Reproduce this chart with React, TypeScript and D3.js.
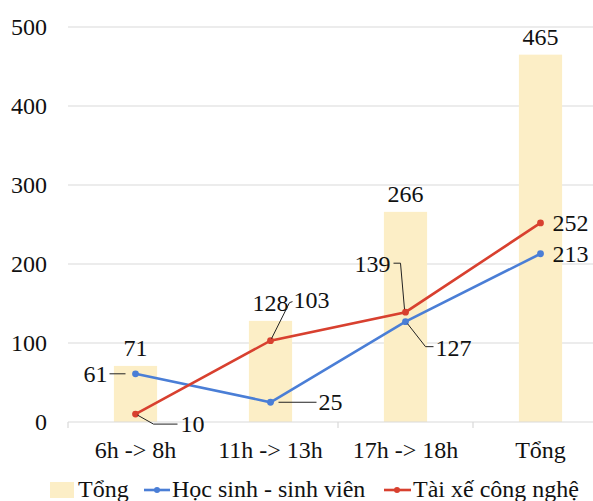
import React from "react";
import * as d3 from "d3";

// Time slots along the x axis
const categories = ["6h -> 8h", "11h -> 13h", "17h -> 18h", "Tổng"];
// Totals drawn as bars
const totalValues = [71, 128, 266, 465];
// Students line
const studentValues = [61, 25, 127, 213];
// Ride-hailing drivers line
const driverValues = [10, 103, 139, 252];
const yTicks = [0, 100, 200, 300, 400, 500];

const W = 593;
const H = 501;
const FONT = "Liberation Serif";
const FS = 24;
const BAR = "#FCEEC6";
const BLUE = "#4A7ED6";
const RED = "#D8402F";
const GRID = "#D9D9D9";

type Lbl = { dx: number; dy: number; anchor: string; leader?: [number, number][] };

// Label placement for each point (offsets relative to the point)
const studentLabels: Lbl[] = [
  { dx: -28, dy: 8, anchor: "end", leader: [[-10, 0], [-26, 0]] },
  { dx: 48, dy: 8, anchor: "start", leader: [[8, 0], [46, 0]] },
  { dx: 30, dy: 34, anchor: "start", leader: [[2, 2], [20, 25], [28, 25]] },
  { dx: 12, dy: 8, anchor: "start" },
];
const driverLabels: Lbl[] = [
  { dx: 45, dy: 18, anchor: "start", leader: [[2, 1], [18, 10], [42, 10]] },
  { dx: 23, dy: -33, anchor: "start", leader: [[1, -2], [19, -38], [22, -39]] },
  { dx: -15, dy: -40, anchor: "end", leader: [[-1, -3], [-5, -49], [-12, -49]] },
  { dx: 12, dy: 8, anchor: "start" },
];

const textStyle = { fontFamily: FONT, fontSize: FS, fill: "#111" };

export default function App() {
  const x = d3.scaleBand<string>().domain(categories).range([68, 608]).padding(0);
  const y = d3.scaleLinear().domain([0, 500]).range([422, 27]);
  const bw = x.bandwidth() * 0.32;
  const cx = (c: string) => (x(c) as number) + x.bandwidth() / 2;

  const line = d3
    .line<number>()
    .x((_, i) => cx(categories[i]))
    .y((v) => y(v));

  const renderLabels = (vals: number[], lbls: Lbl[]) =>
    vals.map((v, i) => {
      const px = cx(categories[i]);
      const py = y(v);
      const l = lbls[i];
      return (
        <g key={i}>
          {l.leader && (
            <polyline
              points={l.leader.map(([a, b]) => `${px + a},${py + b}`).join(" ")}
              fill="none"
              stroke="#222"
              strokeWidth={1}
            />
          )}
          <text x={px + l.dx} y={py + l.dy} textAnchor={l.anchor as any} style={textStyle}>
            {v}
          </text>
        </g>
      );
    });

  const boundaries = [0, 1, 2, 3, 4].map((i) => 68 + i * x.bandwidth());

  return (
    <svg width={W} height={H} style={{ position: "absolute", left: 0, top: 0, background: "#fff" }}>
      {/* gridlines and y tick labels */}
      {yTicks.map((t) => (
        <g key={t}>
          {t > 0 && <line x1={68} x2={W} y1={y(t)} y2={y(t)} stroke={GRID} strokeWidth={1.2} />}
          <text x={47} y={y(t) + 8} textAnchor="end" style={textStyle}>
            {t}
          </text>
        </g>
      ))}

      {/* bars */}
      {categories.map((c, i) => (
        <rect key={c} x={cx(c) - bw / 2} y={y(totalValues[i])} width={bw} height={y(0) - y(totalValues[i])} fill={BAR} />
      ))}

      {/* baseline axis with tick marks */}
      <line x1={68} x2={W} y1={y(0)} y2={y(0)} stroke={GRID} strokeWidth={1.2} />
      {boundaries.map((b) => (
        <line key={b} x1={b} x2={b} y1={y(0)} y2={y(0) + 6} stroke={GRID} strokeWidth={1.2} />
      ))}

      {/* bar value labels */}
      {categories.map((c, i) => (
        <text key={c} x={cx(c)} y={y(totalValues[i]) - 10} textAnchor="middle" style={textStyle}>
          {totalValues[i]}
        </text>
      ))}

      {/* lines */}
      <path d={line(studentValues) || ""} fill="none" stroke={BLUE} strokeWidth={2.6} />
      <path d={line(driverValues) || ""} fill="none" stroke={RED} strokeWidth={2.6} />
      {studentValues.map((v, i) => (
        <circle key={i} cx={cx(categories[i])} cy={y(v)} r={3.4} fill={BLUE} />
      ))}
      {driverValues.map((v, i) => (
        <circle key={i} cx={cx(categories[i])} cy={y(v)} r={3.4} fill={RED} />
      ))}

      {renderLabels(studentValues, studentLabels)}
      {renderLabels(driverValues, driverLabels)}

      {/* category labels */}
      {categories.map((c) => (
        <text key={c} x={cx(c)} y={458} textAnchor="middle" style={textStyle}>
          {c}
        </text>
      ))}

      {/* legend */}
      <rect x={50} y={482} width={24} height={16} fill={BAR} />
      <text x={78} y={497} style={textStyle}>Tổng</text>
      <line x1={144} x2={170} y1={490} y2={490} stroke={BLUE} strokeWidth={2.6} />
      <circle cx={157} cy={490} r={3} fill={BLUE} />
      <text x={172} y={497} style={textStyle}>Học sinh - sinh viên</text>
      <line x1={384} x2={411} y1={490} y2={490} stroke={RED} strokeWidth={2.6} />
      <circle cx={397} cy={490} r={3} fill={RED} />
      <text x={413} y={497} style={textStyle}>Tài xế công nghệ</text>
    </svg>
  );
}
